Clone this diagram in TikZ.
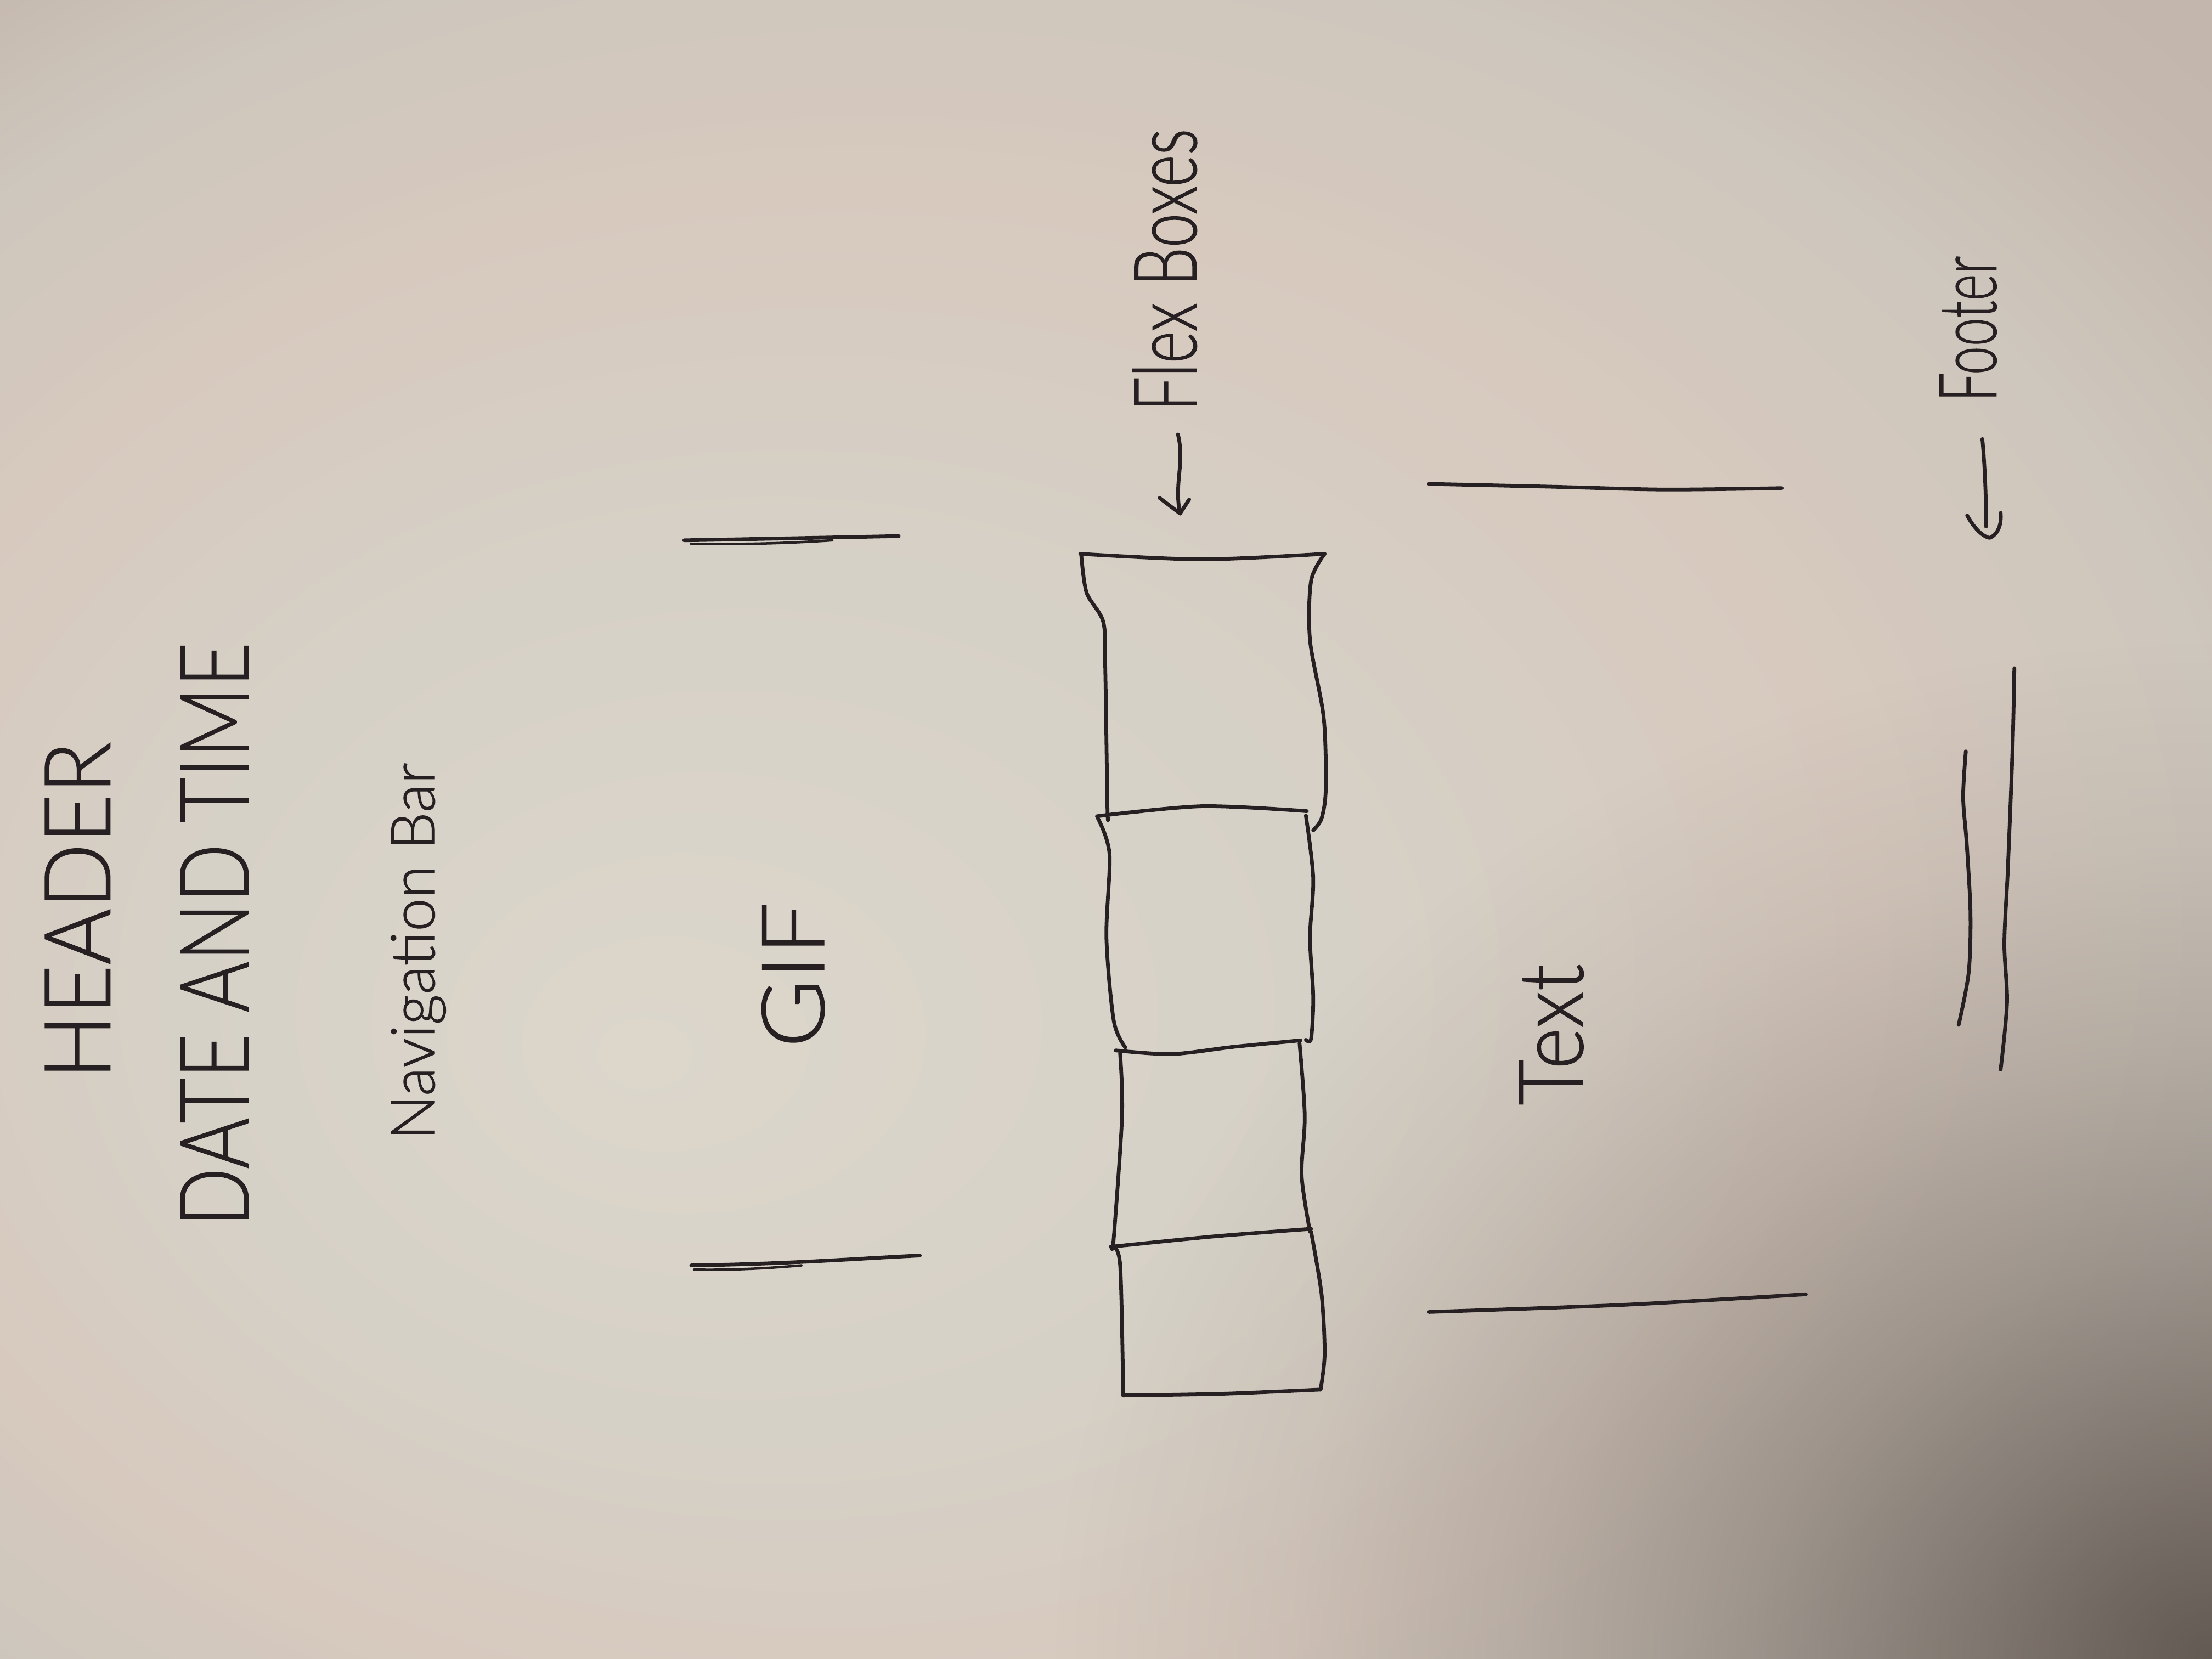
\documentclass[tikz,border=0pt]{standalone}
\usepackage{fontspec}
\usepackage{graphicx}
\newfontfamily\hand{Lato Light}[FakeBold=1]
\usetikzlibrary{arrows.meta,fadings}
\definecolor{ink}{HTML}{262023}
\definecolor{pA}{HTML}{DCD6CB}
\definecolor{pB}{HTML}{D6D1C7}
\definecolor{pC}{HTML}{D7C9BE}
\definecolor{pD}{HTML}{CEC7BD}
\definecolor{pE}{HTML}{C4B7AD}
\definecolor{pF}{HTML}{BCAFA5}
\definecolor{paperbase}{HTML}{D2CCC2}
\definecolor{paperdark}{HTML}{635A54}
\pgfdeclareradialshading{paperlight}{\pgfpoint{-10.65bp}{-6.9bp}}{color(0bp)=(pA); color(13bp)=(pB); color(23bp)=(pC); color(30bp)=(pD); color(36bp)=(pE); color(48bp)=(pF); color(50bp)=(pF)}
\pgfdeclareradialshading{cornerfadeshade}{\pgfpointorigin}{color(0bp)=(pgftransparent!0); color(5bp)=(pgftransparent!28); color(10bp)=(pgftransparent!54); color(15bp)=(pgftransparent!75); color(20bp)=(pgftransparent!91); color(25bp)=(pgftransparent!100); color(50bp)=(pgftransparent!100)}
\pgfdeclarefading{cornerfade}{\pgfuseshading{cornerfadeshade}}
\newcommand{\hw}[3]{\resizebox{#1}{#2}{\hand #3}}
\tikzset{
  inkline/.style={draw=ink, line width=0.75pt, line cap=round, line join=round},
  handlbl/.style={rotate=90, anchor=base west, inner sep=0pt, outer sep=0pt, text=ink},
}
\begin{document}
\begin{tikzpicture}[x=0.01cm, y=-0.01cm]
\useasboundingbox (0,0) rectangle (1568,1176);
% paper
\fill[paperbase] (0,0) rectangle (1568,1176);
\shade[shading=paperlight] (0,0) rectangle (1568,1176);
\fill[paperdark, path fading=cornerfade] (1568,1176) ellipse [x radius=820, y radius=720];

% labels
\node[handlbl] (header)    at (78,765)    {\hw{2.39cm}{0.46cm}{HEADER}};
\node[handlbl] (datetime)  at (176,869.5) {\hw{4.14cm}{0.48cm}{DATE AND TIME}};
\node[handlbl] (navbar)    at (308,808)   {\hw{2.67cm}{0.31cm}{Navigation Bar}};
\node[handlbl] (gif)       at (584,742.7) {\hw{1.03cm}{0.44cm}{GIF}};
\node[handlbl] (textlbl)   at (1122,783.5){\hw{1.00cm}{0.45cm}{Text}};
\node[handlbl] (flexlbl)   at (848,291.5) {\hw{2.00cm}{0.45cm}{Flex Boxes}};
\node[handlbl] (footerlbl) at (1415,284.6){\hw{1.03cm}{0.40cm}{Footer}};

% GIF separator lines
\draw[inkline] (485,383) .. controls (540,382) and (590,381) .. (637,380);
\draw[inkline, line width=0.5pt] (490,385.5) .. controls (530,386) and (560,385) .. (590,383);
\draw[inkline] (490,897) .. controls (560,896) and (610,892) .. (652,890);
\draw[inkline, line width=0.5pt] (492,900) .. controls (520,900.5) and (545,899) .. (568,897);

% flex boxes
\draw[inkline] plot[smooth] coordinates {(765.7,392.6) (852,396.5) (939,392.6)};
\draw[inkline] plot[smooth] coordinates {(766.4,392.6) (770.2,420) (782.1,441) (783.5,474.8) (785,571.8) (785.5,580)};
\draw[inkline] plot[smooth] coordinates {(939,392.6) (929.4,411.6) (928.6,453.7) (938.3,508.5) (939.8,559.1) (936.8,580.2) (930.9,588.6)};
\draw[inkline] plot[smooth] coordinates {(777.6,578.6) (852,571.5) (926.4,575)};
\draw[inkline] plot[smooth] coordinates {(778.3,580.2) (786.5,605.5) (784.3,664.5) (789.5,723.6) (797.7,742.5)};
\draw[inkline] plot[smooth] coordinates {(925.7,578.1) (930.9,622.4) (928.6,664.5) (930.9,706.7) (929.4,736.2) (925.7,737.1)};
\draw[inkline] plot[smooth] coordinates {(790.9,744.6) (830.5,747.2) (874.2,742.1) (921.8,737.5)};
\draw[inkline] plot[smooth] coordinates {(794,746.7) (795.4,791) (789.5,877.5) (788,884)};
\draw[inkline] plot[smooth] coordinates {(921.2,739.6) (924.9,791) (922.7,833.2) (928.6,873.2)};
\draw[inkline] plot[smooth] coordinates {(787.3,883.8) (860,876.5) (929.4,871.1)};
\draw[inkline] plot[smooth] coordinates {(788,883.8) (794,896.4) (796.2,989.2)};
\draw[inkline] plot[smooth] coordinates {(929.4,873.2) (936.8,917.5) (939,959.7) (936.1,985)};
\draw[inkline] plot[smooth] coordinates {(796.2,989.2) (866,988) (936.1,985)};

% Text separator lines
\draw[inkline] plot[smooth] coordinates {(1013,343) (1100,345) (1180,347) (1263,346)};
\draw[inkline] plot[smooth] coordinates {(1013,930) (1150,925) (1280,917.5)};

% footer lines
\draw[inkline] plot[smooth] coordinates {(1393.5,532.6) (1391.6,565.2) (1394.2,599) (1396.8,647.5) (1395.5,689.6) (1388.4,726.5)};
\draw[inkline] plot[smooth] coordinates {(1427.9,473.6) (1426.6,531.5) (1423.3,615.8) (1420.8,668.5) (1422.7,710.7) (1418.2,758.1)};

% arrows
\coordinate (flexTail) at (835,308);
\coordinate (flexTip) at (836.5,364);
\draw[inkline] (flexTail) .. controls (840,328) and (832,343) .. (flexTip);
\draw[inkline] (flexTip) ++(-14.5,-11) -- ++(14.5,11) -- ++(6.5,-10);

\coordinate (footTail) at (1405.2,311.2);
\coordinate (footTip) at (1410.4,381.3);
\draw[inkline] (footTail) .. controls (1407,330) and (1408,355) .. (1407.8,373.2);
\draw[inkline] (footTip) ++(-16,-16) .. controls (1398,372) and (1404,380) .. (footTip) .. controls (1416,379) and (1419,372) .. ++(7.8,-17.7);
\end{tikzpicture}
\end{document}
